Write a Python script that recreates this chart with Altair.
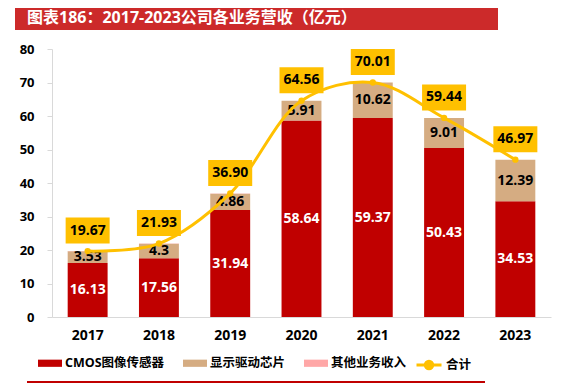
import altair as alt
import pandas as pd

# ---------------- data ----------------
years = ["2017", "2018", "2019", "2020", "2021", "2022", "2023"]
cmos = [16.13, 17.56, 31.94, 58.64, 59.37, 50.43, 34.53]
display_ic = [3.53, 4.3, 4.86, 5.91, 10.62, 9.01, 12.39]
other = [0.01, 0.07, 0.10, 0.01, 0.02, 0.00, 0.05]
total = [19.67, 21.93, 36.90, 64.56, 70.01, 59.44, 46.97]
series_names = ["CMOS图像传感器", "显示驱动芯片", "其他业务收入"]
total_name = "合计"
title_text = "图表186：2017-2023公司各业务营收（亿元）"
y_ticks = [0, 10, 20, 30, 40, 50, 60, 70, 80]

# ---------------- styles ----------------
colors = ["#C00000", "#D5AC82", "#FFA7A7"]
line_color = "#FFC000"
title_red = "#CC2A2A"
axis_gray = "#D9D9D9"
FONT = "Open Sans, Noto Sans CJK SC"

rows = []
for i, y in enumerate(years):
    for k, vals in enumerate([cmos, display_ic, other]):
        rows.append({"year": y, "series": series_names[k], "order": k,
                     "value": vals[i], "label": str(vals[i])})
bars_df = pd.DataFrame(rows)
tot_df = pd.DataFrame({"year": years, "total": total,
                       "series": [total_name] * len(years),
                       "label": [f"{v:.2f}" for v in total]})
title_df = pd.DataFrame({"t": [title_text]})

x_axis = alt.Axis(title=None, labelAngle=0, ticks=False,
                  domainColor=axis_gray, labelFontSize=14,
                  labelFontWeight="bold", labelColor="black",
                  labelFont=FONT, labelPadding=11)
x_scale = alt.Scale(paddingInner=0.44, paddingOuter=0.22)
y_axis = alt.Axis(title=None, values=y_ticks, grid=False, labelOverlap=False,
                  domainColor=axis_gray, tickColor=axis_gray,
                  tickSize=5, labelFontSize=13, labelFontWeight="bold",
                  labelColor="black", labelFont=FONT, labelPadding=13)
y_scale = alt.Scale(domain=[0, 80], nice=False)


def X():
    return alt.X("year:N", sort=years, scale=x_scale, axis=x_axis)


def Y(field, **kw):
    return alt.Y(field, scale=y_scale, axis=y_axis, **kw)


bars = alt.Chart(bars_df).mark_bar().encode(
    x=X(),
    y=Y("value:Q", stack="zero"),
    color=alt.Color("series:N",
                    scale=alt.Scale(domain=series_names, range=colors),
                    legend=alt.Legend(orient="none", legendX=-14, legendY=302,
                                      direction="horizontal", title=None,
                                      symbolType="M-1,-0.3L1,-0.3L1,0.3L-1,0.3Z",
                                      symbolSize=576, symbolStrokeWidth=0,
                                      labelFont=FONT, labelFontSize=12.5,
                                      labelFontWeight="bold", labelColor="black",
                                      labelOffset=3, columnPadding=18, padding=0)),
    order=alt.Order("order:Q"),
)

seg_labels = alt.Chart(bars_df).transform_filter(
    "datum.order < 2"
).transform_stack(
    stack="value", groupby=["year"], sort=[alt.SortField("order")], as_=["v0", "v1"]
).transform_calculate(
    mid="(datum.v0 + datum.v1) / 2"
).mark_text(fontSize=14, fontWeight="bold", font=FONT).encode(
    x=X(),
    y=Y("mid:Q"),
    text="label:N",
    color=alt.condition("datum.order == 0", alt.value("white"), alt.value("black")),
)

line = alt.Chart(tot_df).mark_line(interpolate="catmull-rom", strokeWidth=3).encode(
    x=X(),
    y=Y("total:Q"),
    stroke=alt.Stroke("series:N",
                      scale=alt.Scale(domain=[total_name], range=[line_color]),
                      legend=alt.Legend(orient="none", legendX=363, legendY=302,
                                        title=None,
                                        symbolType="M-1,0L1,0M0.3,0A0.3,0.3,0,1,1,-0.3,0A0.3,0.3,0,1,1,0.3,0Z",
                                        symbolSize=625, symbolStrokeWidth=3,
                                        symbolFillColor=line_color,
                                        labelFont=FONT, labelFontSize=12.5,
                                        labelFontWeight="bold", labelColor="black",
                                        labelOffset=3, padding=0)),
)

points = alt.Chart(tot_df).mark_circle(size=40, color=line_color, opacity=1).encode(
    x=X(),
    y=Y("total:Q"),
)

boxes = alt.Chart(tot_df).mark_rect(width=44, height=26, color=line_color,
                                    yOffset=-20.5).encode(
    x=X(),
    y=Y("total:Q"),
)

box_labels = alt.Chart(tot_df).mark_text(fontSize=14, fontWeight="bold", font=FONT,
                                         color="black", yOffset=-20.5).encode(
    x=X(),
    y=Y("total:Q"),
    text="label:N",
)

title_bar = alt.Chart(title_df).mark_rect(color=title_red).encode(
    x=alt.value(-37), x2=alt.value(446), y=alt.value(-41), y2=alt.value(-19)
)
title_txt = alt.Chart(title_df).mark_text(align="left", baseline="middle",
                                          color="white", fontSize=16,
                                          fontWeight="bold", font=FONT).encode(
    x=alt.value(-25), y=alt.value(-31), text="t:N"
)
bottom_rule = alt.Chart(title_df).mark_rule(color="#C00000", strokeWidth=2).encode(
    x=alt.value(-25), x2=alt.value(433), y=alt.value(333)
)

chart = alt.layer(
    title_bar, title_txt, bars, seg_labels, line, points, boxes, box_labels, bottom_rule
).properties(
    width=499, height=268,
    autosize=alt.AutoSizeParams(type="none"),
    padding={"left": 44, "top": 41, "right": 6, "bottom": 67},
).configure_view(stroke=None)

chart.save("out.html", embed_options={"renderer": "svg", "actions": False})
